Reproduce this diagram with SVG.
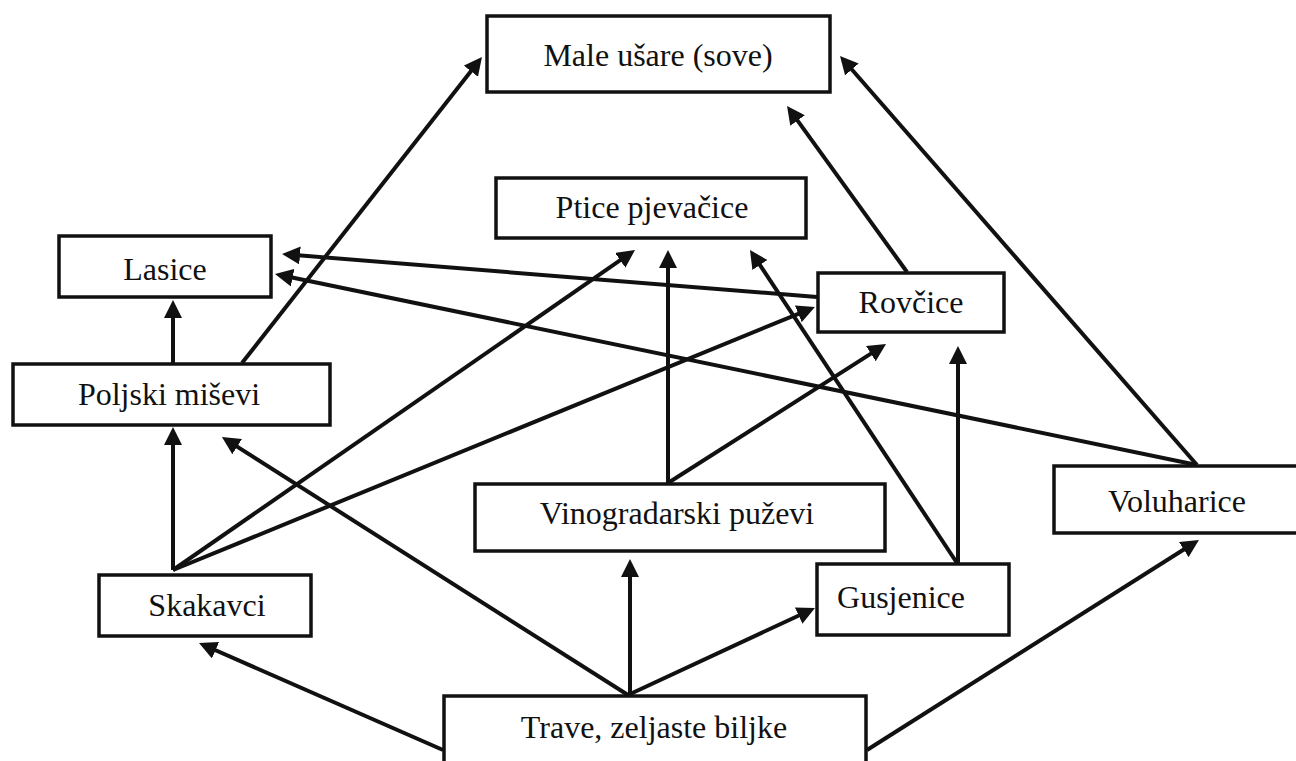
<svg xmlns="http://www.w3.org/2000/svg" width="1296" height="761" viewBox="0 0 1296 761">
<style>
.box{fill:#fff;stroke:#111;stroke-width:3.5}
.lbl{font-family:"Liberation Serif","Times New Roman",serif;font-size:32px;fill:#111;text-anchor:middle}
.edge{stroke:#111;stroke-width:4;fill:none;marker-end:url(#arr)}
</style>
<defs>
<marker id="arr" markerUnits="userSpaceOnUse" viewBox="0 0 18 18" markerWidth="18" markerHeight="18" refX="8" refY="9" orient="auto">
<path d="M0,0 L18,9 L0,18 z" fill="#111"/>
</marker>
</defs>
<rect width="1296" height="761" fill="#fff"/>
<g id="connectors">
<line class="edge" x1="173" y1="363" x2="173" y2="310"/>
<line class="edge" x1="242" y1="363" x2="475.8" y2="64.9"/>
<line class="edge" x1="817" y1="297" x2="292.0" y2="254.8"/>
<line class="edge" x1="1197" y1="465" x2="284.8" y2="276.0"/>
<line class="edge" x1="1197" y1="465" x2="846.6" y2="63.5"/>
<line class="edge" x1="907" y1="272" x2="792.9" y2="114.1"/>
<line class="edge" x1="173" y1="570" x2="173" y2="437"/>
<line class="edge" x1="173" y1="570" x2="626.8" y2="255.7"/>
<line class="edge" x1="173" y1="570" x2="805.7" y2="310.8"/>
<line class="edge" x1="628" y1="695" x2="230.4" y2="442.4"/>
<line class="edge" x1="443" y1="750" x2="208.2" y2="647.0"/>
<line class="edge" x1="630" y1="695" x2="630" y2="569"/>
<line class="edge" x1="628" y1="695" x2="805.9" y2="612.2"/>
<line class="edge" x1="867" y1="750" x2="1190.5" y2="545.3"/>
<line class="edge" x1="668" y1="483" x2="668" y2="260"/>
<line class="edge" x1="668" y1="483" x2="877.6" y2="349.4"/>
<line class="edge" x1="957" y1="563" x2="755.5" y2="258.3"/>
<line class="edge" x1="958" y1="563" x2="958" y2="356"/>
</g>
<g id="male-usare"><rect class="box" x="487" y="16" width="343" height="76"/><text class="lbl" x="658" y="66">Male ušare (sove)</text></g>
<g id="ptice"><rect class="box" x="496" y="178" width="310" height="60"/><text class="lbl" x="652" y="218">Ptice pjevačice</text></g>
<g id="lasice"><rect class="box" x="59" y="236" width="212" height="61"/><text class="lbl" x="165" y="280">Lasice</text></g>
<g id="rovcice"><rect class="box" x="818" y="273" width="186" height="59"/><text class="lbl" x="911" y="313">Rovčice</text></g>
<g id="poljski"><rect class="box" x="13" y="364" width="317" height="61"/><text class="lbl" x="169" y="405">Poljski miševi</text></g>
<g id="vinogradarski"><rect class="box" x="475" y="484" width="410" height="67"/><text class="lbl" x="677" y="524">Vinogradarski puževi</text></g>
<g id="voluharice"><rect class="box" x="1054" y="466" width="250" height="67"/><text class="lbl" x="1177" y="512">Voluharice</text></g>
<g id="skakavci"><rect class="box" x="99" y="575" width="212" height="61"/><text class="lbl" x="207" y="616">Skakavci</text></g>
<g id="gusjenice"><rect class="box" x="817" y="564" width="192" height="71"/><text class="lbl" x="901" y="608">Gusjenice</text></g>
<g id="trave"><rect class="box" x="444" y="696" width="422" height="80"/><text class="lbl" x="654" y="738">Trave, zeljaste biljke</text></g>
</svg>
